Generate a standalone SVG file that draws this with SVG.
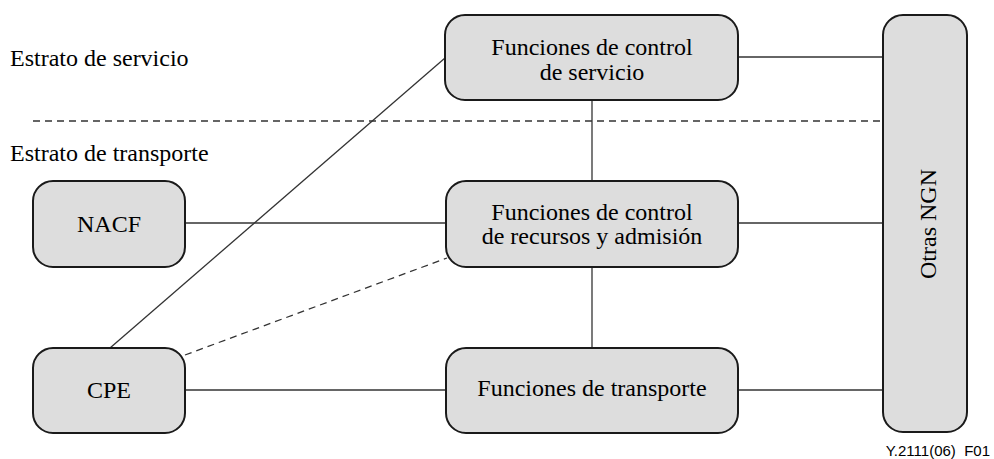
<svg xmlns="http://www.w3.org/2000/svg" width="994" height="459" viewBox="0 0 994 459">
<style>
.box{fill:#dddddd;stroke:#1a1a1a;stroke-width:2}
.t{font-family:"Liberation Serif","Times New Roman",serif;font-size:24px;fill:#000}
.c{text-anchor:middle}
.ln{stroke:#333;stroke-width:1.3;fill:none}
.dash{stroke-dasharray:7,5}
</style>
<rect width="994" height="459" fill="#fff"/>
<text class="t" x="10" y="66">Estrato de servicio</text>
<text class="t" x="10" y="161">Estrato de transporte</text>
<g id="connectors">
<line class="ln dash" x1="33" y1="121" x2="883" y2="121"/>
<line class="ln" x1="738" y1="57" x2="883" y2="57"/>
<line class="ln" x1="738" y1="223" x2="883" y2="223"/>
<line class="ln" x1="738" y1="390" x2="883" y2="390"/>
<line class="ln" x1="185" y1="223" x2="446" y2="223"/>
<line class="ln" x1="185" y1="390" x2="446" y2="390"/>
<line class="ln" x1="592" y1="100" x2="592" y2="181"/>
<line class="ln" x1="592" y1="267" x2="592" y2="348"/>
<line class="ln" x1="110" y1="348" x2="445" y2="58"/>
<line class="ln dash" x1="185" y1="355" x2="447" y2="258"/>
</g>
<g id="service">
<rect class="box" x="445" y="15" width="293" height="85" rx="20"/>
<text class="t c" x="592" y="55">Funciones de control</text>
<text class="t c" x="592" y="80">de servicio</text>
</g>
<g id="racf">
<rect class="box" x="446" y="181" width="292" height="86" rx="20"/>
<text class="t c" x="592" y="220">Funciones de control</text>
<text class="t c" x="592" y="244">de recursos y admisión</text>
</g>
<g id="transport">
<rect class="box" x="446" y="348" width="292" height="85" rx="20"/>
<text class="t c" x="592" y="396">Funciones de transporte</text>
</g>
<g id="nacf">
<rect class="box" x="33" y="181" width="152" height="86" rx="20"/>
<text class="t c" x="109" y="232">NACF</text>
</g>
<g id="cpe">
<rect class="box" x="33" y="348" width="152" height="85" rx="20"/>
<text class="t c" x="109" y="398">CPE</text>
</g>
<g id="ngn">
<rect class="box" x="883" y="15" width="84" height="417" rx="20"/>
<text class="t c" transform="translate(936,224) rotate(-90)">Otras NGN</text>
</g>
<text x="990" y="456" text-anchor="end" xml:space="preserve" style="font-family:'Liberation Sans',Arial,sans-serif;font-size:15px;fill:#000;white-space:pre">Y.2111(06)  F01</text>
</svg>
